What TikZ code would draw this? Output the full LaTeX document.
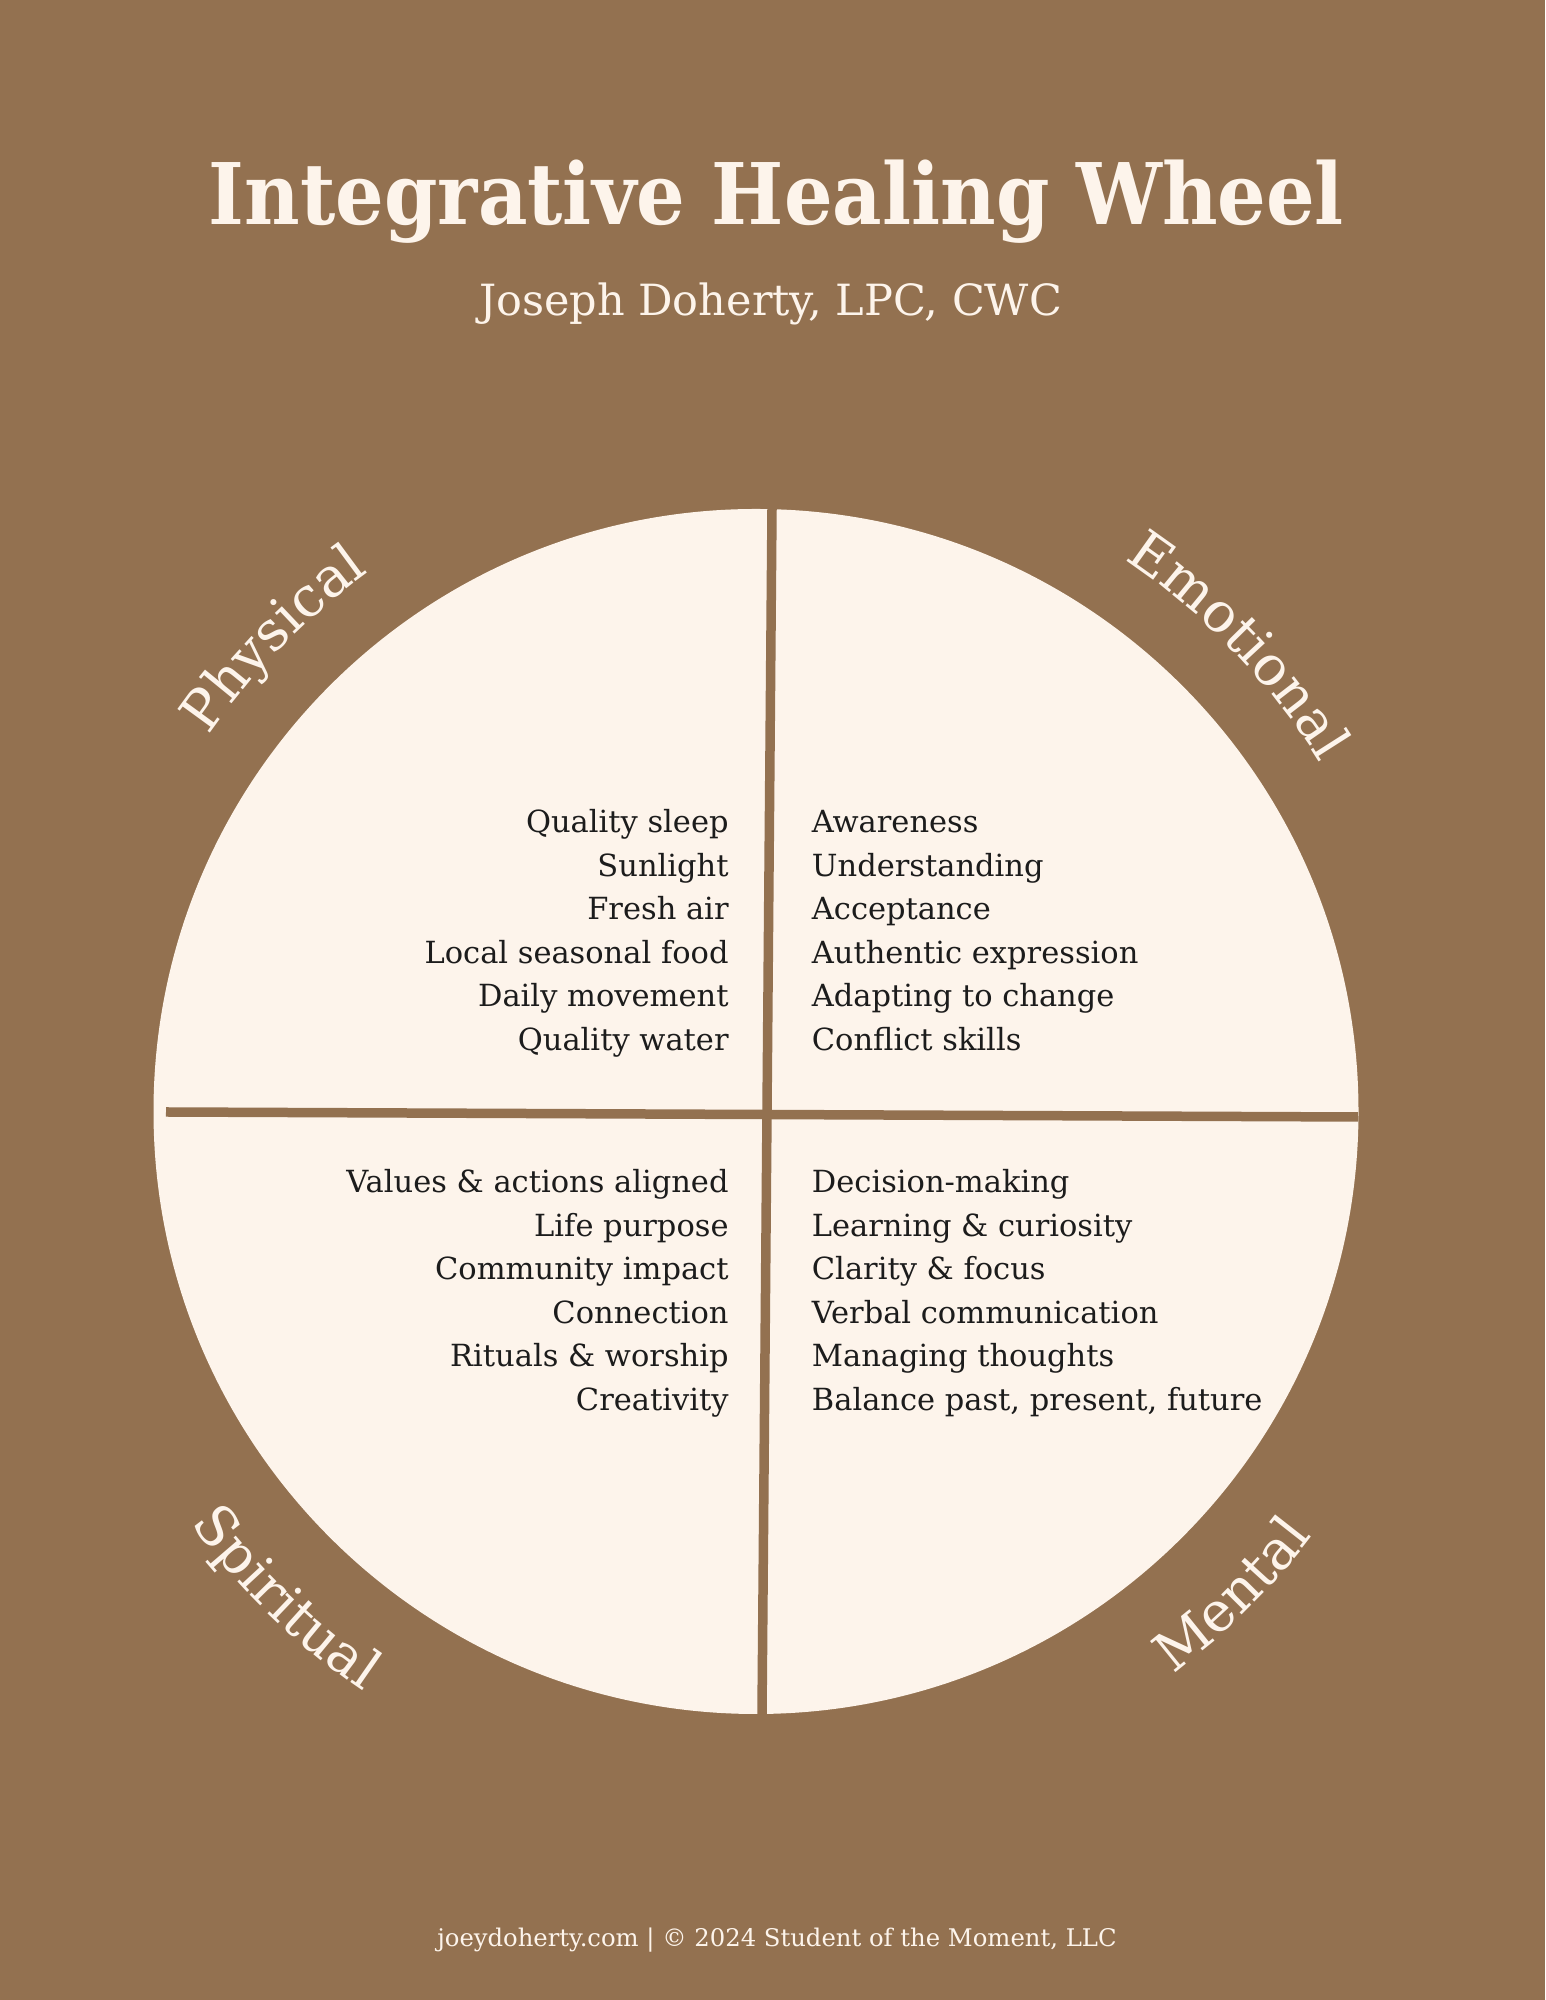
\documentclass[tikz,border=0pt]{standalone}
\usepackage{fontspec}
\setmainfont{DejaVu Serif}
\newfontfamily\titlefont[FakeStretch=0.9]{DejaVu Serif}
\usetikzlibrary{decorations.text}
\definecolor{wheelbrown}{RGB}{147,113,80}
\definecolor{wheelcream}{RGB}{253,244,235}
\definecolor{wheelink}{RGB}{28,28,28}

\begin{document}
\begin{tikzpicture}[x=1pt, y=1pt, thick,
    item/.style={text=wheelink, inner sep=0pt, font=\fontsize{30.5}{36}\selectfont},
    left item/.style={item, anchor=base east},
    right item/.style={item, anchor=base west},
    heading/.style={text=wheelcream, inner sep=0pt, anchor=base},
    divider/.style={draw=wheelbrown, line width=9.5pt},
    quarter/.style={decorate, decoration={text along path, text align=center,
        text={|\fontsize{55}{66}\selectfont\color{wheelcream}|#1}}}]
    \fill[wheelbrown] (0, 0) rectangle (1545, 2000);
    \coordinate (c) at (756, 888.5);
    \fill[wheelcream] (c) circle (602.5);
    \draw[divider] (772, 1491) -- (762, 286);
    \draw[divider] (166, 888) -- (1358, 883);

    \node[heading, font=\titlefont\bfseries\fontsize{85}{96}\selectfont] (title) at (776.5, 1775) {Integrative Healing Wheel};
    \node[heading, font=\fontsize{43}{50}\selectfont] (subtitle) at (770.5, 1684) {Joseph Doherty, LPC, CWC};

    \path[quarter=Physical] (c) ++(170.6:664) arc[start angle=170.6, end angle=100.6, radius=664];
    \path[quarter=Emotional] (c) ++(79:663) arc[start angle=79, end angle=9, radius=663];
    \path[quarter=Spiritual] (c) ++(191:700) arc[start angle=191, end angle=261, radius=700];
    \path[quarter=Mental] (c) ++(279.6:700) arc[start angle=279.6, end angle=349.6, radius=700];

    \node[left item] (p1) at (729, 1167) {Quality sleep}; \node[left item] (p2) at (729, 1123.5) {Sunlight}; \node[left item] (p3) at (729, 1080) {Fresh air};
    \node[left item] (p4) at (729, 1036.5) {Local seasonal food}; \node[left item] (p5) at (729, 993) {Daily movement}; \node[left item] (p6) at (729, 949.5) {Quality water};

    \node[right item] (e1) at (811.5, 1167) {Awareness}; \node[right item] (e2) at (811.5, 1123.5) {Understanding}; \node[right item] (e3) at (811.5, 1080) {Acceptance};
    \node[right item] (e4) at (811.5, 1036.5) {Authentic expression}; \node[right item] (e5) at (811.5, 993) {Adapting to change}; \node[right item] (e6) at (811.5, 949.5) {Conflict skills};

    \node[left item] (s1) at (729, 807) {Values \& actions aligned}; \node[left item] (s2) at (729, 763.5) {Life purpose}; \node[left item] (s3) at (729, 720) {Community impact};
    \node[left item] (s4) at (729, 676.5) {Connection}; \node[left item] (s5) at (729, 633) {Rituals \& worship}; \node[left item] (s6) at (729, 589.5) {Creativity};

    \node[right item] (m1) at (811.5, 807) {Decision-making}; \node[right item] (m2) at (811.5, 763.5) {Learning \& curiosity}; \node[right item] (m3) at (811.5, 720) {Clarity \& focus};
    \node[right item] (m4) at (811.5, 676.5) {Verbal communication}; \node[right item] (m5) at (811.5, 633) {Managing thoughts}; \node[right item] (m6) at (811.5, 589.5) {Balance past, present, future};

    \node[heading, font=\fontsize{24.3}{28}\selectfont] (footer) at (777, 53.3) {joeydoherty.com | © 2024 Student of the Moment, LLC};
  \end{tikzpicture}
\end{document}
